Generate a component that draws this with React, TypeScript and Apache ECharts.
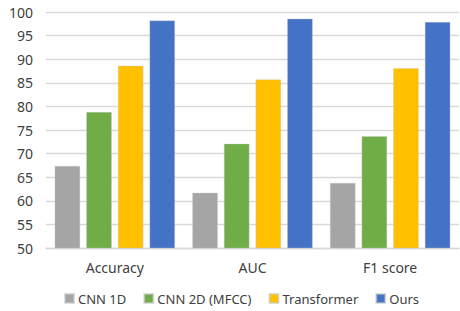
import React, { useEffect, useRef } from "react";
import * as echarts from "echarts";

const categories = ["Accuracy", "AUC", "F1 score"];
const seriesNames = ["CNN 1D", "CNN 2D (MFCC)", "Transformer", "Ours"];
const cnn1d = [67.4, 61.7, 63.8];
const cnn2d = [78.8, 72.1, 73.7];
const transformer = [88.6, 85.7, 88.1];
const ours = [98.2, 98.6, 97.9];
const colors = ["#A5A5A5", "#70AD47", "#FFC000", "#4472C4"];

export default function App() {
  const ref = useRef<HTMLDivElement>(null);
  useEffect(() => {
    if (!ref.current) return;
    const chart = echarts.init(ref.current, null, { renderer: "svg" });
    const data = [cnn1d, cnn2d, transformer, ours];
    const font = "'Noto Sans', sans-serif";
    chart.setOption({
      animation: false,
      grid: { left: 46, right: 1, top: 12, bottom: 63, containLabel: false },
      legend: {
        data: seriesNames,
        bottom: 1,
        left: 59,
        itemWidth: 9,
        itemHeight: 9,
        itemGap: 17,
        icon: "rect",
        textStyle: { fontFamily: font, fontSize: 13, color: "#404040", padding: [0, 0, 0, -1] },
      },
      xAxis: {
        type: "category",
        data: categories,
        axisTick: { show: false },
        axisLine: { lineStyle: { color: "#D9D9D9", width: 1.3 } },
        axisLabel: { fontFamily: font, fontSize: 14, color: "#404040", margin: 12 },
      },
      yAxis: {
        type: "value",
        min: 50,
        max: 100,
        interval: 5,
        axisLine: { show: false },
        axisTick: { show: false },
        splitLine: { lineStyle: { color: "#D9D9D9", width: 1.3 } },
        axisLabel: { fontFamily: font, fontSize: 14, color: "#404040", margin: 13 },
      },
      series: seriesNames.map((name, i) => ({
        name,
        type: "bar",
        data: data[i],
        barWidth: 25.5,
        barGap: "24%",
        itemStyle: { color: colors[i], borderColor: "rgba(200,200,200,0.6)", borderWidth: 0.6 },
      })),
    });
    return () => chart.dispose();
  }, []);
  return <div ref={ref} style={{ width: 460, height: 311, position: "absolute", left: 0, top: 0 }} />;
}
